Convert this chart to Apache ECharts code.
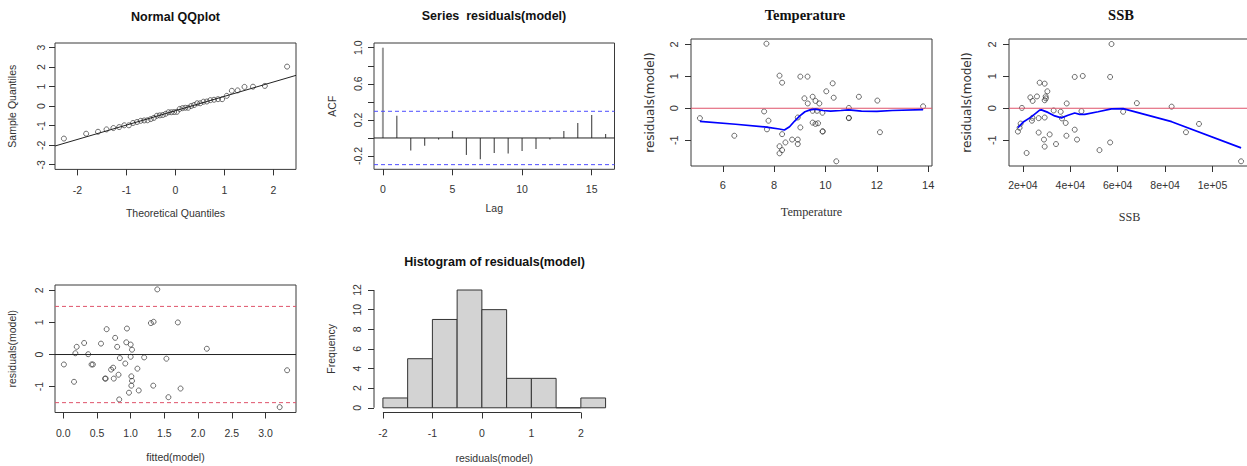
<!DOCTYPE html>
<html><head><meta charset="utf-8">
<script src="https://cdn.jsdelivr.net/npm/echarts@6/dist/echarts.min.js"></script>
<style>html,body{margin:0;padding:0;background:#fff}#c{width:1247px;height:466px}</style>
</head><body><div id="c"></div>
<script>
// ---------------- data ----------------
const qqTheoretical = [-2.278,-1.824,-1.582,-1.408,-1.268,-1.150,-1.046,-0.952,-0.867,-0.786,-0.711,-0.639,-0.571,-0.505,-0.441,-0.380,-0.319,-0.259,-0.201,-0.143,-0.086,-0.029,
  0.029,0.086,0.143,0.201,0.259,0.319,0.380,0.441,0.505,0.571,0.639,0.711,0.786,0.867,0.952,1.046,1.150,1.268,1.408,1.582,1.824,2.278];
const qqSample = [-1.66,-1.41,-1.31,-1.19,-1.12,-1.07,-0.98,-0.98,-0.86,-0.81,-0.75,-0.73,-0.72,-0.66,-0.60,-0.49,-0.47,-0.45,-0.39,-0.31,-0.31,-0.30,
  -0.29,-0.14,-0.10,-0.08,-0.08,0.01,0.06,0.15,0.15,0.23,0.24,0.31,0.33,0.36,0.36,0.53,0.79,0.81,0.99,1.00,1.04,2.03];
const qqLineIntercept = -0.23;
const qqLineSlope = 0.736;

const acfLags = [0,1,2,3,4,5,6,7,8,9,10,11,12,13,14,15,16];
const acfValues = [1.0,0.247,-0.14,-0.085,-0.018,0.078,-0.188,-0.236,-0.166,-0.173,-0.144,-0.122,-0.018,0.078,0.166,0.255,0.044];
const acfBound = 0.2955;

const tempValues = [5.11,6.45,7.70,7.61,7.78,7.72,8.21,8.31,8.31,8.21,8.31,8.21,8.44,8.70,8.92,8.92,8.92,9.02,9.02,9.30,9.18,9.31,
  9.50,9.61,9.76,9.50,9.67,9.88,9.50,9.61,9.71,9.89,9.89,10.03,10.28,10.32,10.42,10.91,10.91,10.91,11.30,12.02,12.12,13.80];
const tempResiduals = [-0.31,-0.86,2.02,-0.10,-0.39,-0.66,1.02,0.80,-0.81,-1.19,-1.31,-1.41,-1.07,-0.98,-0.98,-1.12,-0.29,-0.60,0.99,0.99,0.31,0.15,
  0.36,0.23,0.15,-0.08,-0.08,-0.14,-0.45,-0.49,-0.47,-0.72,-0.73,0.53,0.78,0.33,-1.66,0.01,-0.30,-0.31,0.36,0.24,-0.75,0.06];
const tempSmoothX = [5.11,6.5,7.7,8.2,8.4,8.6,8.8,9.0,9.2,9.4,9.6,9.9,10.2,10.6,10.9,11.4,12.0,12.6,13.8];
const tempSmoothY = [-0.41,-0.50,-0.59,-0.65,-0.68,-0.58,-0.40,-0.24,-0.11,-0.05,-0.03,-0.07,-0.09,-0.07,-0.05,-0.09,-0.10,-0.07,-0.04];

const ssbValues = [57380,41860,45240,56790,27060,29180,30310,23130,25920,24100,29600,29180,38480,19580,32980,35940,44690,26640,29180,23800,36490,38050,
  19030,18600,17890,26640,41860,31290,38350,28880,42830,29180,33950,21560,52300,56790,62280,68080,82750,88800,94290,112050,24000,29700];
const ssbResiduals = [2.01,0.98,1.01,0.98,0.80,0.77,0.53,0.34,0.37,0.23,0.37,0.25,0.15,0.01,-0.07,-0.11,-0.09,-0.31,-0.29,-0.39,-0.32,-0.46,
  -0.48,-0.61,-0.73,-0.76,-0.67,-0.82,-0.86,-0.98,-0.98,-1.20,-1.12,-1.40,-1.31,-1.07,-0.11,0.16,0.05,-0.75,-0.49,-1.66,-0.30,0.31];
const ssbSmoothX = [17890,20000,23550,27060,27800,30570,33400,36240,39030,41860,43970,46090,51710,57360,62280,82750,112050];
const ssbSmoothY = [-0.61,-0.44,-0.27,-0.06,-0.05,-0.13,-0.24,-0.30,-0.22,-0.15,-0.19,-0.19,-0.11,-0.02,-0.01,-0.42,-1.24];

const fittedValues = [1.395,0.644,0.945,1.30,1.34,1.70,0.31,0.20,0.56,0.77,0.80,0.935,1.00,1.02,0.18,0.37,0.01,0.42,0.44,0.84,1.00,1.20,
  1.53,0.92,0.71,0.74,0.82,1.10,0.62,0.63,0.75,1.01,1.02,1.01,0.16,0.975,1.12,1.335,0.83,1.56,1.74,2.13,3.21,3.32];
const fittedResiduals = [2.03,0.79,0.81,0.98,1.02,1.00,0.36,0.24,0.34,0.52,0.24,0.38,0.31,0.15,0.04,0.01,-0.31,-0.31,-0.31,-0.11,-0.07,-0.09,
  -0.13,-0.28,-0.47,-0.41,-0.63,-0.44,-0.75,-0.75,-0.75,-0.68,-0.82,-0.97,-0.85,-1.19,-1.12,-0.97,-1.40,-1.33,-1.06,0.18,-1.64,-0.49];
const fittedBand = 1.5;

const histBreaks = [-2,-1.5,-1,-0.5,0,0.5,1,1.5,2,2.5];
const histCounts = [1,5,9,12,10,3,3,0,1];

// tick labels
const qqXTicks = [-2,-1,0,1,2];
const qqYTicks = [-3,-2,-1,0,1,2,3];
const acfXTicks = [0,5,10,15];
const acfYTicks = [-0.2,0,0.2,0.4,0.6,0.8,1.0];
const acfYLabels = [-0.2,0.2,0.6,1.0];
const tempXTicks = [6,8,10,12,14];
const residTicks = [-1,0,1,2];
const ssbXTicks = [20000,40000,60000,80000,100000];
const ssbXLabels = ['2e+04','4e+04','6e+04','8e+04','1e+05'];
const fittedXTicks = [0,0.5,1,1.5,2,2.5,3];
const histXTicks = [-2,-1,0,1,2];
const histYTicks = [0,2,4,6,8,10,12];

// ---------------- layout / style ----------------
const SANS = '"Liberation Sans", Arial, sans-serif';
const SERIF = '"Liberation Serif", "Times New Roman", serif';
const DEJAVU = '"DejaVu Sans", sans-serif';
const INK = '#333';
const BOX = '#3a3a3a';
const R_RED = '#DF536B';

const range = {
  qqX:[-2.46,2.46], qqY:[-3.24,3.24],
  acfX:[-0.64,16.64], acfY:[-0.347,1.052],
  tempX:[4.763,14.147], resY:[-1.807,2.167],
  ssbX:[14124,115816],
  fitX:[-0.122,3.452],
  histX:[-2.18,2.68], histY:[-0.48,12.48]
};

const zip = (a,b) => a.map((v,i)=>[v,b[i]]);
const fmtNum = v => String(v);
const fmt1 = v => Number(v).toFixed(1);

function makeAxis(gi, isY, r, ticks, labels, fmt, o) {
  return {
    type:'value', gridIndex:gi, min:r[0], max:r[1],
    position: isY ? 'left' : 'bottom',
    axisLine:{show:false, onZero:false}, splitLine:{show:false},
    axisTick:{show:true, inside:false, length:6, customValues:ticks, lineStyle:{color:INK, width:1}},
    axisLabel:{show:true, customValues:labels, formatter:fmt, rotate:isY?90:0, margin:o.margin,
      fontSize:o.fs||10.5, fontFamily:SANS, color:INK, hideOverlap:false},
    name:o.name, nameLocation:'middle', nameGap:o.gap,
    nameTextStyle:{fontSize:o.nfs||10.5, fontFamily:o.nff||SANS, color:INK}
  };
}

const gridBase = {show:true, borderColor:BOX, borderWidth:1, backgroundColor:'transparent', containLabel:false, outerBoundsMode:'none'};
const grid = [
  Object.assign({}, gridBase, {left:55, top:43, width:241, height:126.4}),
  Object.assign({}, gridBase, {left:374, top:43, width:240.5, height:126.3}),
  Object.assign({}, gridBase, {left:691, top:39, width:241, height:127}),
  Object.assign({}, gridBase, {left:1009, top:39, width:241, height:127}),
  Object.assign({}, gridBase, {left:55, top:285, width:241, height:127.5}),
  Object.assign({}, gridBase, {show:false, left:374, top:285.3, width:240.5, height:127.2})
];

const xAxis = [
  makeAxis(0,false,range.qqX,qqXTicks,qqXTicks,fmtNum,{margin:15,name:'Theoretical Quantiles',gap:38}),
  makeAxis(1,false,range.acfX,acfXTicks,acfXTicks,fmtNum,{margin:14,name:'Lag',gap:33}),
  makeAxis(2,false,range.tempX,tempXTicks,tempXTicks,fmtNum,{margin:13,fs:11,name:'Temperature',gap:40,nfs:12.2,nff:SERIF}),
  makeAxis(3,false,range.ssbX,ssbXTicks,ssbXTicks,v=>ssbXLabels[ssbXTicks.indexOf(v)],{margin:13,name:'SSB',gap:45,nfs:12.2,nff:SERIF}),
  makeAxis(4,false,range.fitX,fittedXTicks,fittedXTicks,fmt1,{margin:15,name:'fitted(model)',gap:39}),
  makeAxis(5,false,range.histX,histXTicks,histXTicks,fmtNum,{margin:15,name:'residuals(model)',gap:40})
];
const yAxis = [
  makeAxis(0,true,range.qqY,qqYTicks,qqYTicks,fmtNum,{margin:9,name:'Sample Quantiles',gap:38}),
  makeAxis(1,true,range.acfY,acfYTicks,acfYLabels,fmt1,{margin:11,name:'ACF',gap:37}),
  makeAxis(2,true,range.resY,residTicks,residTicks,fmtNum,{margin:12,fs:11,name:'residuals(model)',gap:35,nfs:12,nff:DEJAVU}),
  makeAxis(3,true,range.resY,residTicks,residTicks,fmtNum,{margin:12,fs:11,name:'residuals(model)',gap:36,nfs:12,nff:DEJAVU}),
  makeAxis(4,true,range.resY,residTicks,residTicks,fmtNum,{margin:11,name:'residuals(model)',gap:38}),
  makeAxis(5,true,range.histY,histYTicks,histYTicks,fmtNum,{margin:12,name:'Frequency',gap:38})
];

function scatter(i, data) {
  return {type:'scatter', xAxisIndex:i, yAxisIndex:i, data, symbol:'circle', symbolSize:5, silent:true,
    itemStyle:{color:'rgba(0,0,0,0)', borderColor:'#333', borderWidth:0.9}, z:3};
}
function line(i, data, color, width, dash, clip) {
  return {type:'line', xAxisIndex:i, yAxisIndex:i, data, showSymbol:false, symbol:'none', silent:true,
    clip: clip!==false, lineStyle:{color, width, type: dash||'solid'}, z:4};
}
function hline(i, xr, y, color, dash) {
  return line(i, [[xr[0],y],[xr[1],y]], color, 1, dash);
}

const series = [
  // QQ
  scatter(0, zip(qqTheoretical, qqSample)),
  line(0, range.qqX.map(x=>[x, qqLineIntercept + qqLineSlope*x]), '#222', 1),
  // ACF
  hline(1, range.acfX, 0, '#222'),
  hline(1, range.acfX, acfBound, '#4d4dff', [4,3]),
  hline(1, range.acfX, -acfBound, '#4d4dff', [4,3]),
  {type:'custom', xAxisIndex:1, yAxisIndex:1, silent:true, data:zip(acfLags, acfValues),
    renderItem:(p, api) => {
      const a = api.coord([api.value(0), 0]);
      const b = api.coord([api.value(0), api.value(1)]);
      return {type:'line', shape:{x1:a[0], y1:a[1], x2:b[0], y2:b[1]}, style:{stroke: p.dataIndex===0?'#9a9a9a':'#555', lineWidth: p.dataIndex===0?2:1.2}};
    }, z:3},
  // Temperature
  scatter(2, zip(tempValues, tempResiduals)),
  hline(2, range.tempX, 0, R_RED),
  line(2, zip(tempSmoothX, tempSmoothY), '#0000ff', 1.7),
  // SSB
  scatter(3, zip(ssbValues, ssbResiduals)),
  hline(3, range.ssbX, 0, R_RED),
  line(3, zip(ssbSmoothX, ssbSmoothY), '#0000ff', 1.7),
  // fitted
  scatter(4, zip(fittedValues, fittedResiduals)),
  hline(4, range.fitX, 0, '#222'),
  hline(4, range.fitX, fittedBand, R_RED, [4,3]),
  hline(4, range.fitX, -fittedBand, R_RED, [4,3]),
  // histogram
  {type:'custom', xAxisIndex:5, yAxisIndex:5, silent:true,
    data: histCounts.map((c,i)=>[histBreaks[i], histBreaks[i+1], c]),
    encode:{x:[0,1], y:2},
    renderItem:(p, api) => {
      const a = api.coord([api.value(0), 0]);
      const b = api.coord([api.value(1), api.value(2)]);
      return {type:'rect', shape:{x:a[0], y:b[1], width:b[0]-a[0], height:a[1]-b[1]},
        style:{fill:'#d3d3d3', stroke:'#333', lineWidth:1}};
    }, z:3},
  line(5, [[histXTicks[0], range.histY[0]], [histXTicks[histXTicks.length-1], range.histY[0]]], INK, 1, 'solid', false),
  line(5, [[range.histX[0], histYTicks[0]], [range.histX[0], histYTicks[histYTicks.length-1]]], INK, 1, 'solid', false)
];

const titles = [
  {text:'Normal QQplot', x:175.5, y:16.5, font:'bold 12.5px '+SANS},
  {text:'Series  residuals(model)', x:494, y:16, font:'bold 12.5px '+SANS},
  {text:'Temperature', x:805, y:14.5, font:'bold 14.5px '+SERIF},
  {text:'SSB', x:1121, y:14.5, font:'bold 14.5px '+SERIF},
  {text:'Histogram of residuals(model)', x:494.5, y:261.5, font:'bold 12.5px '+SANS}
];

const chart = echarts.init(document.getElementById('c'), null, {renderer:'svg'});
chart.setOption({
  animation:false,
  backgroundColor:'#fff',
  grid, xAxis, yAxis, series,
  graphic: titles.map(t => ({type:'text', x:t.x, y:t.y, silent:true,
    style:{text:t.text, font:t.font, fill:'#111', align:'center', verticalAlign:'middle'}}))
});
</script>
</body></html>
